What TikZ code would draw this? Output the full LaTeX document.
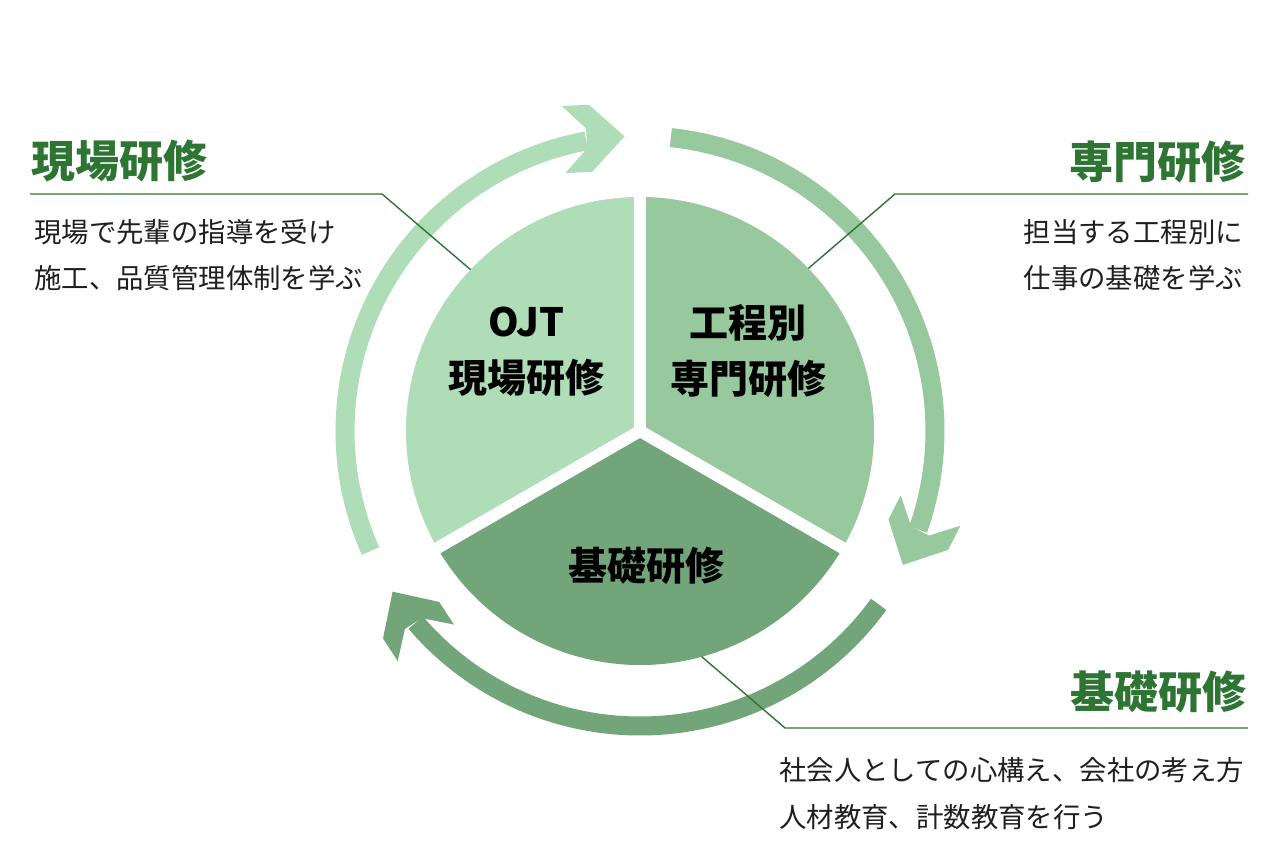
\documentclass[tikz,border=0pt]{standalone}
\usepackage{fontspec}
\newfontfamily\jp{Noto Sans CJK JP}
\usetikzlibrary{calc}
\definecolor{gLight}{RGB}{175,221,183}
\definecolor{gMid}{RGB}{152,200,158}
\definecolor{gDark}{RGB}{114,166,122}
\definecolor{gText}{RGB}{46,117,52}
\newcommand\ringhead[2]{%
  \fill[#1, shift={($(C)+(#2:295)$)}, rotate=#2-90]
    (0,0) -- (-34,33.5) -- (-61,33.5) -- (-38,10) -- (-38,-10)
    -- (-61,-33.5) -- (-34,-33.5) -- cycle;}
\begin{document}
\begin{tikzpicture}[x=1pt,y=1pt,
  title/.style={text=gText, font=\jp\bfseries\fontsize{44}{50}\selectfont, inner sep=0pt},
  desc/.style={text=black!88, font=\jp\fontsize{27.4}{46.5}\selectfont, inner sep=0pt},
  inlabel/.style={text=black, font=\jp\bfseries\fontsize{39}{56}\selectfont, inner sep=0pt, align=center},
  leader/.style={draw=gText, line width=1.4pt},
  gapline/.style={draw=white, line width=12pt},
  ring/.style={line width=19pt},
]
\fill[white] (0,0) rectangle (1280,860);
\useasboundingbox (0,0) rectangle (1280,860);
\coordinate (C) at (640,429);

% pie sectors
\fill[gLight] (C) -- ($(C)+(90:234)$) arc[start angle=90, end angle=210, radius=234pt] -- cycle;
\fill[gMid] (C) -- ($(C)+(-30:234)$) arc[start angle=-30, end angle=90, radius=234pt] -- cycle;
\fill[gDark] (C) -- ($(C)+(210:234)$) arc[start angle=210, end angle=330, radius=234pt] -- cycle;
\draw[gapline] (C) -- ++(90:250);
\draw[gapline] (C) -- ++(210:250);
\draw[gapline] (C) -- ++(330:250);
\fill[white] (C) circle[radius=6pt];

% ring arrows
\draw[gLight, ring] ($(C)+(204:295)$) arc[start angle=204, end angle=100.5, radius=295pt];
\ringhead{gLight}{93}
\draw[gMid, ring] ($(C)+(84:295)$) arc[start angle=84, end angle=-19.5, radius=295pt];
\ringhead{gMid}{-27}
\draw[gDark, ring] ($(C)+(324:295)$) arc[start angle=324, end angle=220.5, radius=295pt];
\ringhead{gDark}{213}

% inner labels
\node[inlabel] (ojt) at (526,508) {OJT\\現場研修};
\node[inlabel] (senmon) at (748,508.5) {工程別\\専門研修};
\node[inlabel] (kiso) at (646.5,294) {基礎研修};

% titles
\node[title, anchor=west] (t1) at (31,699) {現場研修};
\node[title, anchor=east] (t2) at (1246,698) {専門研修};
\node[title, anchor=east] (t3) at (1247,168) {基礎研修};

% descriptions
\node[desc, anchor=west, align=left] (d1) at (34,605) {現場で先輩の指導を受け\\施工、品質管理体制を学ぶ};
\node[desc, anchor=east, align=right] (d2) at (1243,605) {担当する工程別に\\仕事の基礎を学ぶ};
\node[desc, anchor=west, align=left] (d3) at (779,66.5) {社会人としての心構え、会社の考え方\\人材教育、計数教育を行う};

% leader lines
\coordinate (l1a) at (30,666);
\coordinate (l1b) at (382,666);
\coordinate (l1c) at ($(C)+(136.4:234)$);
\coordinate (l2a) at (1248,666);
\coordinate (l2b) at (895,666);
\coordinate (l2c) at ($(C)+(44:234)$);
\coordinate (l3a) at (1248,132);
\coordinate (l3b) at (785,132);
\coordinate (l3c) at ($(C)+(-74.7:234)$);
\draw[leader] (l1a) -- (l1b) -- (l1c);
\draw[leader] (l2a) -- (l2b) -- (l2c);
\draw[leader] (l3a) -- (l3b) -- (l3c);
\end{tikzpicture}
\end{document}
